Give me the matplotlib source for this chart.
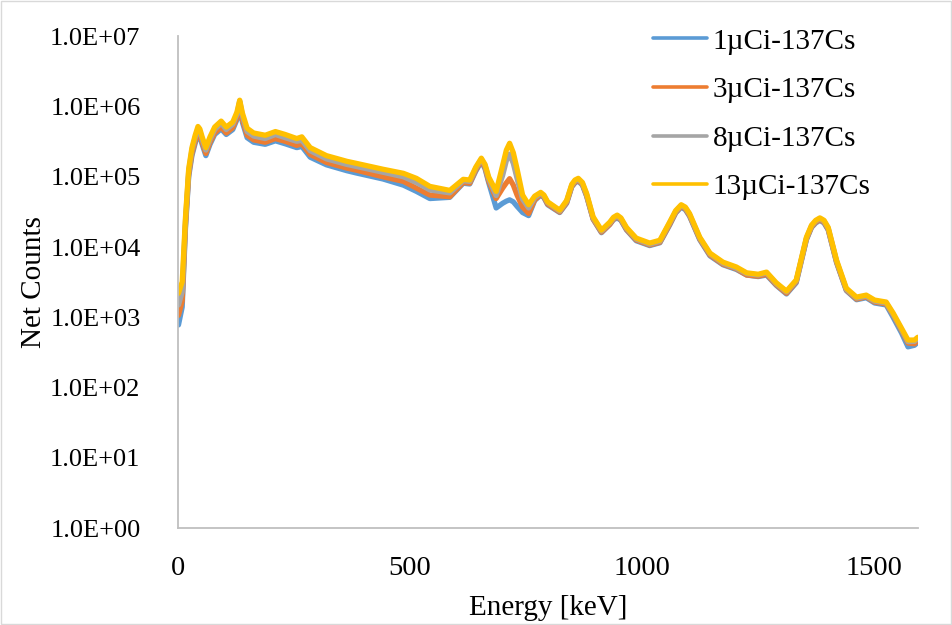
import matplotlib.pyplot as plt
from matplotlib.patches import Rectangle

# ---------------------------------------------------------
# spectrum values
# ---------------------------------------------------------
energy_kev = [1, 9, 16, 23, 30, 37, 43, 47, 52, 60,
              69, 79, 93, 104, 118, 127, 133, 139, 149, 163,
              188, 210, 231, 256, 267, 285, 320, 364, 385, 442,
              486, 514, 543, 586, 615, 629, 642, 654, 662, 670,
              686, 700, 708, 715, 723, 731, 743, 756, 769, 782,
              789, 797, 823, 838, 849, 856, 863, 872, 881, 895,
              913, 931, 939, 947, 955, 967, 988, 1017, 1039, 1060,
              1073, 1085, 1094, 1103, 1125, 1147, 1175, 1204, 1226, 1251,
              1269, 1290, 1312, 1333, 1355, 1366, 1375, 1384, 1393, 1402,
              1420, 1441, 1463, 1484, 1502, 1527, 1542, 1560, 1574, 1588,
              1595]

counts_1uci = [780, 1.4e3, 1.8e4, 1.0e5, 2.0e5, 3.0e5, 4.1e5, 3.75e5, 2.9e5, 2.0e5,
               2.9e5, 4.0e5, 4.8e5, 4.0e5, 4.7e5, 6.5e5, 1.1e6, 5.9e5, 3.6e5, 3.1e5,
               2.9e5, 3.25e5, 2.95e5, 2.6e5, 2.7e5, 1.9e5, 1.48e5, 1.22e5, 1.13e5, 9.3e4,
               7.6e4, 6.2e4, 4.9e4, 5.1e4, 8.1e4, 7.9e4, 1.2e5, 1.65e5, 1.3e5, 8.2e4,
               3.6e4, 4.2e4, 4.5e4, 4.7e4, 4.4e4, 3.8e4, 3.1e4, 2.8e4, 4.6e4, 5.5e4,
               5.05e4, 4.0e4, 3.1e4, 4.2e4, 7.2e4, 8.2e4, 8.7e4, 7.6e4, 5.3e4, 2.5e4,
               1.6e4, 2.1e4, 2.45e4, 2.6e4, 2.4e4, 1.75e4, 1.23e4, 1.05e4, 1.15e4, 2.05e4,
               3.05e4, 3.7e4, 3.4e4, 2.75e4, 1.27e4, 7.5e3, 5.6e3, 4.8e3, 4.0e3, 3.8e3,
               4.0e3, 2.85e3, 2.15e3, 3.1e3, 1.27e4, 1.9e4, 2.2e4, 2.4e4, 2.2e4, 1.75e4,
               6.0e3, 2.4e3, 1.78e3, 1.9e3, 1.6e3, 1.5e3, 1.0e3, 600, 380, 400,
               440]

counts_3uci = [1.07e3, 1.7e3, 2.0e4, 1.08e5, 2.15e5, 3.2e5, 4.3e5, 4.0e5, 3.1e5, 2.15e5,
               3.1e5, 4.2e5, 5.1e5, 4.2e5, 5.0e5, 6.9e5, 1.15e6, 6.4e5, 3.9e5, 3.35e5,
               3.1e5, 3.5e5, 3.2e5, 2.8e5, 2.95e5, 2.08e5, 1.6e5, 1.33e5, 1.24e5, 1.0e5,
               8.6e4, 6.9e4, 5.5e4, 5.2e4, 8.3e4, 8.1e4, 1.25e5, 1.7e5, 1.36e5, 8.6e4,
               4.9e4, 6.9e4, 8.2e4, 9.4e4, 7.6e4, 5.5e4, 3.7e4, 3.0e4, 4.7e4, 5.6e4,
               5.15e4, 4.1e4, 3.15e4, 4.3e4, 7.3e4, 8.4e4, 8.9e4, 7.8e4, 5.4e4, 2.5e4,
               1.63e4, 2.1e4, 2.5e4, 2.7e4, 2.45e4, 1.78e4, 1.26e4, 1.07e4, 1.17e4, 2.1e4,
               3.1e4, 3.8e4, 3.5e4, 2.8e4, 1.3e4, 7.7e3, 5.7e3, 4.9e3, 4.0e3, 3.85e3,
               4.1e3, 2.9e3, 2.2e3, 3.2e3, 1.3e4, 1.93e4, 2.26e4, 2.45e4, 2.26e4, 1.78e4,
               6.1e3, 2.45e3, 1.82e3, 1.95e3, 1.65e3, 1.55e3, 1.08e3, 650, 430, 420,
               470]

counts_8uci = [1.5e3, 2.3e3, 2.3e4, 1.2e5, 2.4e5, 3.6e5, 4.8e5, 4.45e5, 3.4e5, 2.4e5,
               3.4e5, 4.7e5, 5.8e5, 4.7e5, 5.6e5, 7.7e5, 1.2e6, 7.3e5, 4.4e5, 3.8e5,
               3.5e5, 4.0e5, 3.6e5, 3.2e5, 3.3e5, 2.35e5, 1.8e5, 1.5e5, 1.4e5, 1.16e5,
               1.0e5, 8.3e4, 6.5e4, 5.9e4, 8.8e4, 8.6e4, 1.32e5, 1.78e5, 1.44e5, 9.3e4,
               5.4e4, 1.05e5, 1.7e5, 2.1e5, 1.55e5, 9.5e4, 4.8e4, 3.6e4, 5.0e4, 5.8e4,
               5.3e4, 4.3e4, 3.25e4, 4.5e4, 7.6e4, 8.7e4, 9.2e4, 8.0e4, 5.6e4, 2.6e4,
               1.69e4, 2.2e4, 2.57e4, 2.75e4, 2.52e4, 1.84e4, 1.3e4, 1.1e4, 1.21e4, 2.2e4,
               3.2e4, 3.9e4, 3.6e4, 2.9e4, 1.34e4, 8.0e3, 5.9e3, 5.0e3, 4.2e3, 4.0e3,
               4.3e3, 3.0e3, 2.3e3, 3.3e3, 1.34e4, 2.0e4, 2.33e4, 2.55e4, 2.33e4, 1.85e4,
               6.3e3, 2.5e3, 1.88e3, 2.0e3, 1.7e3, 1.6e3, 1.1e3, 670, 450, 455,
               500]

counts_13uci = [2.2e3, 3.2e3, 2.6e4, 1.3e5, 2.6e5, 3.9e5, 5.2e5, 4.8e5, 3.7e5, 2.6e5,
                3.7e5, 5.1e5, 6.2e5, 5.1e5, 6.0e5, 8.3e5, 1.23e6, 8.0e5, 4.9e5, 4.2e5,
                3.9e5, 4.4e5, 4.0e5, 3.5e5, 3.7e5, 2.6e5, 2.0e5, 1.66e5, 1.55e5, 1.28e5,
                1.12e5, 9.5e4, 7.3e4, 6.4e4, 9.2e4, 9.0e4, 1.37e5, 1.84e5, 1.5e5, 9.9e4,
                6.2e4, 1.46e5, 2.4e5, 3.0e5, 2.2e5, 1.3e5, 5.5e4, 4.0e4, 5.3e4, 6.0e4,
                5.5e4, 4.4e4, 3.35e4, 4.6e4, 7.8e4, 9.0e4, 9.5e4, 8.3e4, 5.8e4, 2.7e4,
                1.74e4, 2.26e4, 2.65e4, 2.85e4, 2.6e4, 1.9e4, 1.34e4, 1.14e4, 1.25e4, 2.26e4,
                3.3e4, 4.0e4, 3.7e4, 3.0e4, 1.38e4, 8.2e3, 6.1e3, 5.2e3, 4.3e3, 4.1e3,
                4.4e3, 3.1e3, 2.36e3, 3.4e3, 1.38e4, 2.05e4, 2.4e4, 2.6e4, 2.4e4, 1.9e4,
                6.5e3, 2.6e3, 1.94e3, 2.07e3, 1.76e3, 1.65e3, 1.15e3, 700, 475, 475,
                520]

series_labels = ["1µCi-137Cs", "3µCi-137Cs", "8µCi-137Cs", "13µCi-137Cs"]
y_tick_labels = ["1.0E+00", "1.0E+01", "1.0E+02", "1.0E+03",
                 "1.0E+04", "1.0E+05", "1.0E+06", "1.0E+07"]
x_ticks = [0, 500, 1000, 1500]

# ---------------------------------------------------------
# plotting
# ---------------------------------------------------------
plt.rcParams["font.family"] = ["Liberation Serif", "DejaVu Serif"]

fig = plt.figure(figsize=(9.52, 6.25), dpi=100)
ax = fig.add_axes([0.187, 0.155, 0.777, 0.787])

colors = ["#5B9BD5", "#ED7D31", "#A5A5A5", "#FFC000"]
all_counts = [counts_1uci, counts_3uci, counts_8uci, counts_13uci]

for counts, label, color in zip(all_counts, series_labels, colors):
    ax.plot(energy_kev, counts, color=color, lw=3.8, label=label,
            solid_joinstyle="round", solid_capstyle="round")

ax.set_yscale("log")
ax.set_ylim(1, 1e7)
ax.set_xlim(0, 1595)

ax.set_yticks([10 ** i for i in range(8)])
ax.set_yticklabels(y_tick_labels)
ax.minorticks_off()
ax.set_xticks(x_ticks)
ax.tick_params(axis="both", length=0, colors="black")
ax.tick_params(axis="y", pad=27, labelsize=19)
ax.tick_params(axis="x", pad=20, labelsize=20.5)

for side in ["top", "right"]:
    ax.spines[side].set_visible(False)
for side in ["left", "bottom"]:
    ax.spines[side].set_color("#BFBFBF")
    ax.spines[side].set_linewidth(1.3)

ax.set_xlabel("Energy [keV]", fontsize=21, labelpad=10)
ax.set_ylabel("Net Counts", fontsize=21, labelpad=2)

leg = ax.legend(loc="upper left", bbox_to_anchor=(0.626, 1.04),
                frameon=False, fontsize=21, handlelength=1.85,
                handletextpad=0.2, labelspacing=0.76, borderaxespad=0)
for line in leg.get_lines():
    line.set_linewidth(2.6)

# light border around the chart area
fig.patches.append(Rectangle((0.001, 0.001), 0.998, 0.997, transform=fig.transFigure,
                             fill=False, edgecolor="#D9D9D9", lw=1.0))

fig.savefig("out.png", dpi=100)
